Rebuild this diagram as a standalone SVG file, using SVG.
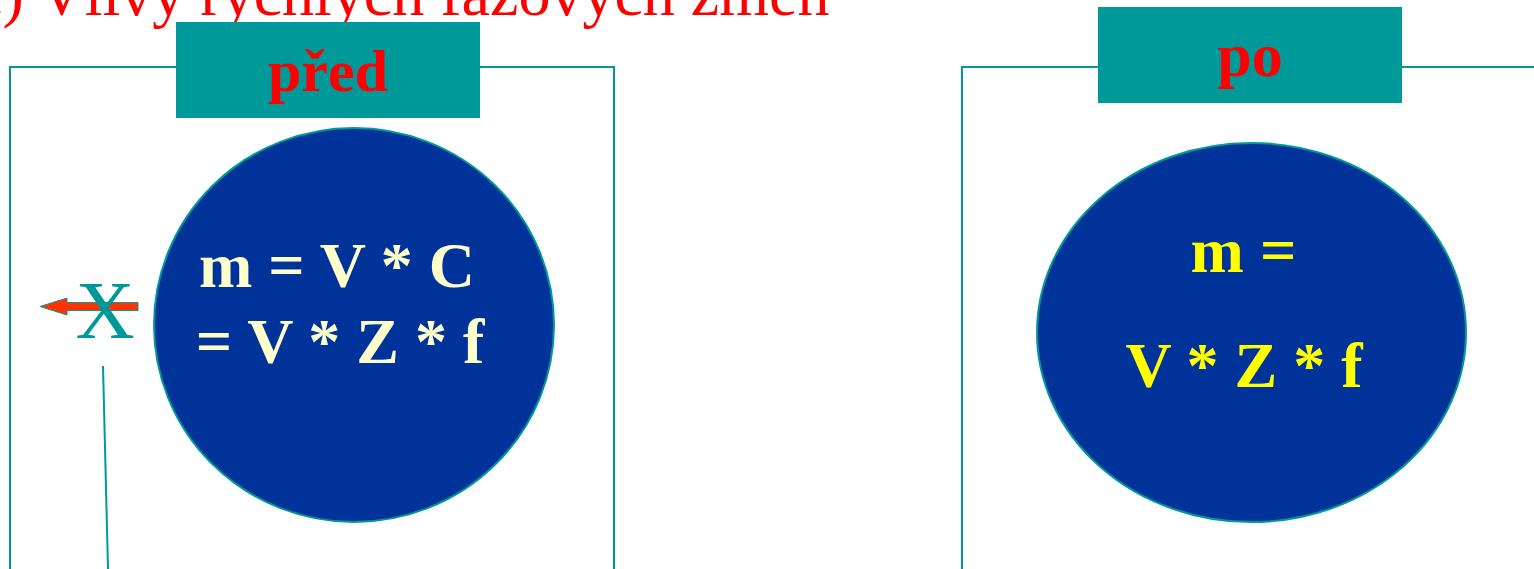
<svg xmlns="http://www.w3.org/2000/svg" width="1534" height="569" viewBox="0 0 1534 569">
<style>
.frame{fill:none;stroke:#009999;stroke-width:2}
.tab{fill:#009999}
.tabtxt{font-family:"Liberation Serif",serif;font-weight:bold;fill:#FF0000;text-anchor:middle}
.blob{fill:#003399;stroke:#009999;stroke-width:2}
.eq{font-family:"Liberation Serif",serif;font-weight:bold;font-size:64px;text-anchor:middle}
</style>
<rect width="1534" height="569" fill="#ffffff"/>
<text x="-26" y="15" font-family="Liberation Serif, serif" font-size="64" fill="#FF0000">c) Vlivy rychlých fázových změn</text>
<g id="frame-left">
<path class="frame" d="M10,569 V67 H176 M480,67 H614 V569"/>
</g>
<g id="frame-right">
<path class="frame" d="M962,569 V67 H1098 M1402,67 H1534"/>
</g>
<g id="tab-pred">
<rect class="tab" x="176" y="22" width="304" height="96"/>
<text class="tabtxt" x="328" y="91" font-size="60">před</text>
</g>
<g id="tab-po">
<rect class="tab" x="1098" y="7" width="304" height="96"/>
<text class="tabtxt" x="1250" y="76" font-size="62">po</text>
</g>
<g id="node-before">
<ellipse class="blob" cx="354" cy="325" rx="200" ry="197"/>
<text class="eq" x="337" y="287" fill="#FFFFCC">m = V * C</text>
<text class="eq" x="340" y="363" fill="#FFFFCC">= V * Z * f</text>
</g>
<g id="node-after">
<ellipse class="blob" cx="1251.5" cy="332.5" rx="214.5" ry="189.5"/>
<text class="eq" x="1243.5" y="272" fill="#FFFF00">m =</text>
<text class="eq" x="1244" y="387" fill="#FFFF00">V * Z * f</text>
</g>
<g id="connectors">
<path d="M40,306.5 L67,298 L67,302.5 L138,302.5 L138,310.5 L67,310.5 L67,315 Z" fill="#FF3300" stroke="#009999" stroke-width="1"/>
<line x1="103" y1="366" x2="108" y2="569" stroke="#009999" stroke-width="2"/>
</g>
<g id="mark-x">
<text x="105" y="338" font-family="Liberation Serif, serif" font-size="82" fill="#009999" text-anchor="middle">X</text>
</g>
</svg>
